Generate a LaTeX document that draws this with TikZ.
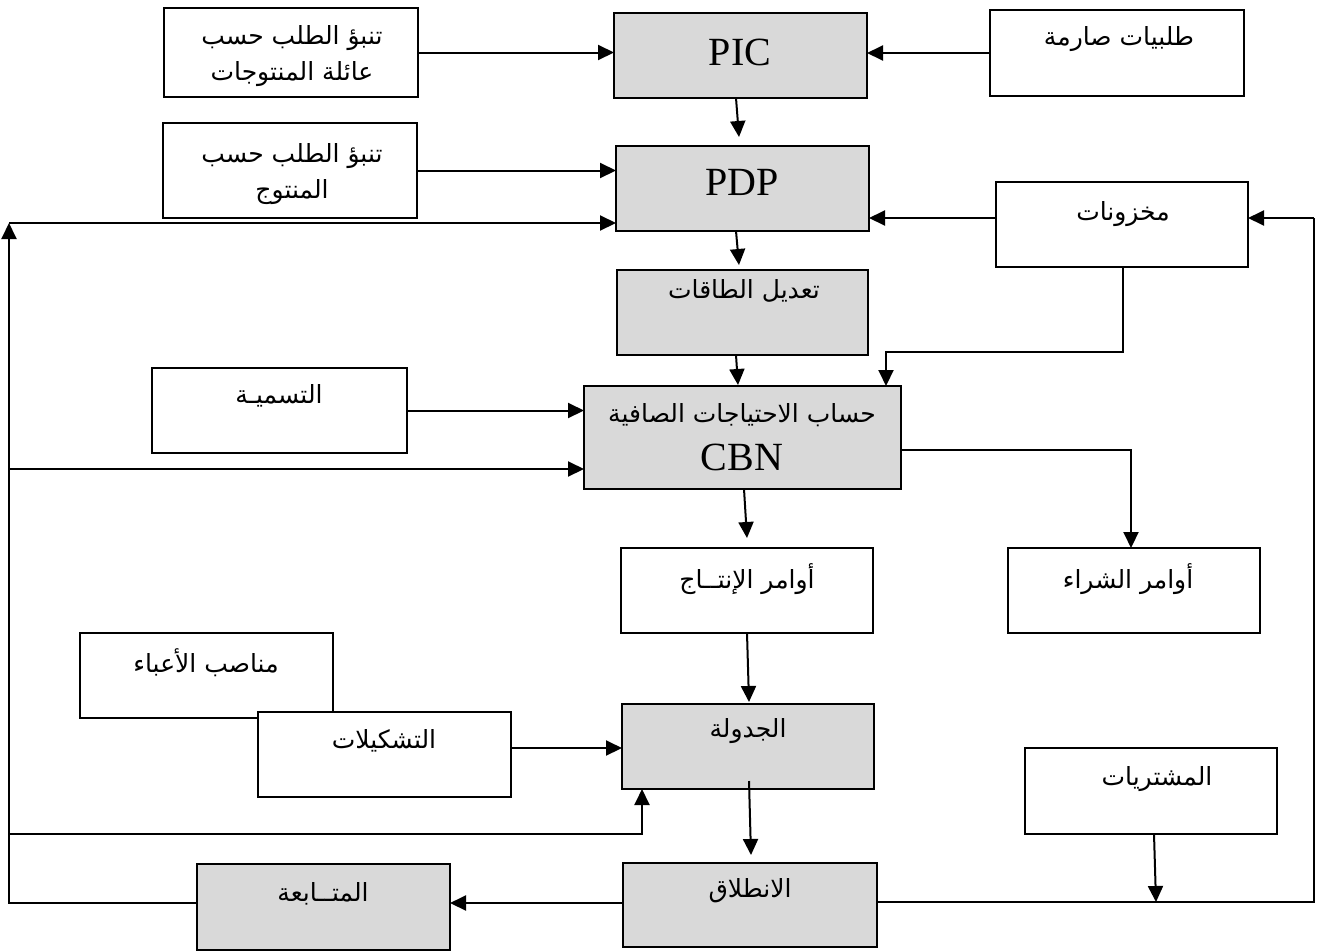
\documentclass[tikz,border=0pt]{standalone}
\usepackage{fontspec}
\usetikzlibrary{arrows.meta,calc}
\TeXXeTstate=1
\newfontfamily\arabicfont[Script=Arabic]{DejaVu Sans}
\newfontfamily\latinfont{Liberation Serif}
\newcommand\rl[1]{\beginR #1\endR}
\definecolor{boxgray}{RGB}{217,217,217}
\tikzset{
  box/.style={draw=black, line width=2pt, fill=white, rectangle,
    minimum width=253pt, minimum height=85pt, inner sep=0pt, outer sep=0pt},
  graybox/.style={box, fill=boxgray},
  ar/.style={font=\arabicfont\fontsize{25}{36}\selectfont, align=center, inner sep=0pt},
  lat/.style={font=\latinfont\fontsize{40}{44}\selectfont, inner sep=0pt},
  arr/.style={line width=2pt, -{Triangle[length=16pt,width=15pt]}},
  wire/.style={line width=2pt}
}
\begin{document}
\begin{tikzpicture}[x=1pt,y=-1pt]
\useasboundingbox (0,0) rectangle (1324,951);

% boxes
\node[box, minimum width=254pt, minimum height=89pt] (fam) at (291,52.5) {};
\node[graybox] (pic) at (740.5,55.5) {};
\node[box, minimum width=254pt, minimum height=86pt] (strict) at (1117,53) {};
\node[box, minimum width=254pt, minimum height=95pt] (prod) at (290,170.5) {};
\node[graybox] (pdp) at (742.5,188.5) {};
\node[box, minimum width=252pt] (stock) at (1122,224.5) {};
\node[graybox, minimum width=251pt] (cap) at (742.5,312.5) {};
\node[box, minimum width=255pt] (nom) at (279.5,410.5) {};
\node[graybox, minimum width=317pt, minimum height=103pt] (cbn) at (742.5,437.5) {};
\node[box, minimum width=252pt] (of) at (747,590.5) {};
\node[box, minimum width=252pt] (oa) at (1134,590.5) {};
\node[box] (charge) at (206.5,675.5) {};
\node[box] (gamme) at (384.5,754.5) {};
\node[graybox, minimum width=252pt] (sched) at (748,746.5) {};
\node[box, minimum width=252pt, minimum height=86pt] (achat) at (1151,791) {};
\node[graybox, minimum height=86pt] (suivi) at (323.5,907) {};
\node[graybox, minimum width=254pt, minimum height=84pt] (launch) at (750,905) {};

% labels
\node[ar] (fam-t) at (292,56) {\rl{تنبؤ الطلب حسب}\\\rl{عائلة المنتوجات}};
\node[lat] (pic-t) at (740,52) {PIC};
\node[ar] (strict-t) at (1119,39) {\rl{طلبيات صارمة}};
\node[ar] (prod-t) at (292,174) {\rl{تنبؤ الطلب حسب}\\\rl{المنتوج}};
\node[lat] (pdp-t) at (742,182) {PDP};
\node[ar] (stock-t) at (1123,214) {\rl{مخزونات}};
\node[ar] (cap-t) at (744,291) {\rl{تعديل الطاقات}};
\node[ar] (nom-t) at (279,396) {\rl{التسميـة}};
\node[ar] (cbn-t) at (742,415) {\rl{حساب الاحتياجات الصافية}};
\node[lat] (cbn-l) at (742,457) {CBN};
\node[ar] (of-t) at (747,579) {\rl{أوامر الإنتــاج}};
\node[ar] (oa-t) at (1128,579) {\rl{أوامر الشراء}};
\node[ar] (charge-t) at (206,663) {\rl{مناصب الأعباء}};
\node[ar] (gamme-t) at (384,741) {\rl{التشكيلات}};
\node[ar] (sched-t) at (748,731) {\rl{الجدولة}};
\node[ar] (achat-t) at (1157,779) {\rl{المشتريات}};
\node[ar] (suivi-t) at (323,894) {\rl{المتــابعة}};
\node[ar] (launch-t) at (750,891) {\rl{الانطلاق}};

% routing points
\coordinate (lt) at (9,223);
\coordinate (lm) at (9,469);
\coordinate (ll) at (9,834);
\coordinate (lb) at (9,903);
\coordinate (rb) at (1314,902);
\coordinate (rt) at (1314,218);
\coordinate (sk) at (1123,352);
\coordinate (sj) at (886,352);
\coordinate (ob) at (1131,450);
\coordinate (sl) at (642,834);
\coordinate (ab) at (1156,902);

% horizontal inputs
\draw[arr] (fam.east) -- (fam.east -| pic.west);
\draw[arr] (strict.west) -- (strict.west -| pic.east);
\draw[arr] (prod.east) -- (prod.east -| pdp.west);
\draw[arr] ([yshift=6.5pt]stock.west) -- ([yshift=6.5pt]stock.west -| pdp.east);
\draw[arr] (nom.east) -- (nom.east -| cbn.west);
\draw[arr] ([yshift=6.5pt]gamme.east) -- ([yshift=6.5pt]gamme.east -| sched.west);

% main chain
\draw[arr] ($(pic.south)+(-4.5,0)$) -- ($(pdp.north)+(-3.5,-9)$);
\draw[arr] ($(pdp.south)+(-6.5,0)$) -- ($(cap.north)+(-3.5,-5)$);
\draw[arr] ($(cap.south)+(-6.5,0)$) -- ($(cbn.north)+(-4.5,-1)$);
\draw[arr] ($(cbn.south)+(1.5,0)$) -- ($(of.north)+(0,-10)$);
\draw[arr] (of.south) -- ($(sched.north)+(1,-2)$);
\draw[arr] ($(sched.south)+(1,-8)$) -- ($(launch.north)+(1,-8)$);
\draw[arr] ([yshift=2pt]launch.west) -- ([yshift=2pt]launch.west -| suivi.east);

% stock to net requirements
\draw[arr] (stock.south -| sk) -- (sk) -- (sj) -- (sj |- cbn.north);

% net requirements to purchase orders
\draw[arr] (cbn.east |- ob) -- (ob) -- (ob |- oa.north);

% purchases feed the loop
\draw[arr] (achat.south -| 1154,0) -- (ab);

% right loop back to stock
\draw[wire] (launch.east |- rb) -- (rb) -- (rt);
\draw[arr] (rt) -- (rt -| stock.east);

% left feedback loop
\draw[arr] (suivi.west |- lb) -- (lb) -- (lt);
\draw[arr] (lt) -- (lt -| pdp.west);
\draw[arr] (lm) -- (lm -| cbn.west);
\draw[arr] (ll) -- (sl) -- (sl |- sched.south);
\end{tikzpicture}
\end{document}
